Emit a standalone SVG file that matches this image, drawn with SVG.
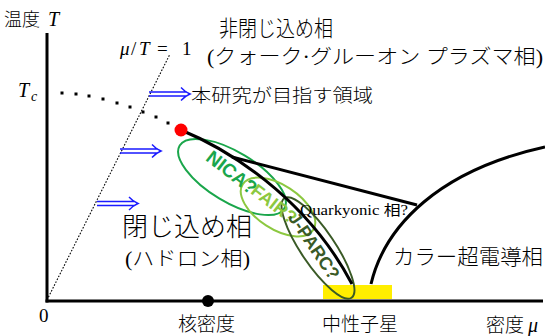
<svg xmlns="http://www.w3.org/2000/svg" width="545" height="336" viewBox="0 0 545 336">
<style>
.jp{font-family:"Liberation Serif","Noto Sans CJK JP",serif;fill:#000;font-weight:300}
.it{font-family:"Liberation Serif",serif;font-style:italic;fill:#000}
.rm{font-family:"Liberation Serif",serif;fill:#000}
.lbl{font-family:"Liberation Sans",Arial,sans-serif;font-weight:bold}
.arr{fill:none;stroke:#1a1aff;stroke-width:1.4}
.dot{fill:#000}
</style>
<rect width="545" height="336" fill="#fff"/>
<g id="axes">
<line x1="47" y1="33" x2="47" y2="302.5" stroke="#000" stroke-width="3"/>
<line x1="45.5" y1="301" x2="543" y2="301" stroke="#000" stroke-width="3"/>
<line x1="47" y1="300" x2="170" y2="54" stroke="#000" stroke-width="1.1" stroke-dasharray="1.6 1.6"/>
</g>
<g id="tc-dots">
<rect class="dot" x="60.5" y="91.5" width="3" height="3"/>
<rect class="dot" x="74.5" y="92.5" width="3" height="3"/>
<rect class="dot" x="87.5" y="94.5" width="3" height="3"/>
<rect class="dot" x="101.5" y="97.5" width="3" height="3"/>
<rect class="dot" x="115.5" y="101.5" width="3" height="3"/>
<rect class="dot" x="128.5" y="105.5" width="3" height="3"/>
<rect class="dot" x="141.5" y="110.5" width="3" height="3"/>
<rect class="dot" x="154.5" y="115.5" width="3" height="3"/>
<rect class="dot" x="166.5" y="121.5" width="3" height="3"/>
</g>
<g id="neutron-star-band">
<rect x="323" y="285" width="69" height="14" fill="#ffee00"/>
</g>
<g id="experiments">
<ellipse id="nica" cx="232" cy="177" rx="61" ry="25" transform="rotate(31 232 177)" fill="none" stroke="#1aa64b" stroke-width="2"/>
<ellipse id="fair" cx="278" cy="207" rx="42" ry="22" transform="rotate(33 278 207)" fill="none" stroke="#8cc840" stroke-width="2"/>
<ellipse id="jparc" cx="318" cy="248" rx="60" ry="17" transform="rotate(56 318 248)" fill="none" stroke="#3a5a26" stroke-width="2"/>
</g>
<g id="connectors" fill="none" stroke="#000" stroke-width="3">
<path d="M181,130 C225,148 305,195 352,284"/>
<path d="M232,157 L417,205"/>
<path d="M371,284 C385,225 440,170 545,147"/>
</g>
<g id="arrows">
<path class="arr" d="M149,92 H187 M149,96 H187 M181,87.5 Q185,92 190,94 Q185,96 181,100.5"/>
<path class="arr" d="M120,149 H158 M120,153 H158 M152,144.5 Q156,149 161,151 Q156,153 152,157.5"/>
<path class="arr" d="M97,201.5 H135 M97,205.5 H135 M129,197 Q133,201.5 138,203.5 Q133,205.5 129,210"/>
</g>
<g id="critical-point"><circle cx="181" cy="130" r="6.5" fill="#ff0000"/></g>
<g id="nuclear-density"><circle cx="208" cy="301" r="6" fill="#000"/></g>
<g id="labels">
<text class="jp" x="4" y="26" font-size="18">温度</text>
<text class="it" x="48" y="26" font-size="20">T</text>
<text class="it" x="18" y="97" font-size="20">T</text>
<text class="it" x="31" y="101" font-size="14">c</text>
<text class="rm" x="39" y="322" font-size="19">0</text>
<text class="it" x="120" y="55" font-size="19">μ</text>
<text class="rm" x="131" y="55" font-size="19">/</text>
<text class="it" x="139" y="55" font-size="19">T</text>
<text class="rm" x="157" y="55" font-size="19">=</text>
<text class="rm" x="182" y="55" font-size="19">1</text>
<text class="jp" x="219" y="36" font-size="22" textLength="114" lengthAdjust="spacingAndGlyphs">非閉じ込め相</text>
<text class="jp" x="207" y="64" font-size="20" textLength="336" lengthAdjust="spacingAndGlyphs">(クォーク·グルーオン プラズマ相)</text>
<text class="jp" x="191" y="102" font-size="18" textLength="182" lengthAdjust="spacingAndGlyphs">本研究が目指す領域</text>
<text class="jp" x="122" y="236" font-size="26" textLength="130" lengthAdjust="spacingAndGlyphs">閉じ込め相</text>
<text class="jp" x="125" y="266" font-size="20" textLength="125" lengthAdjust="spacingAndGlyphs">(ハドロン相)</text>
<text class="jp" x="393" y="264" font-size="21" textLength="150" lengthAdjust="spacingAndGlyphs">カラー超電導相</text>
<text class="rm" x="300" y="215" font-size="14" textLength="108" lengthAdjust="spacingAndGlyphs">Quarkyonic <tspan font-family="Noto Sans CJK JP">相</tspan>?</text>
<text class="jp" x="178" y="331" font-size="19">核密度</text>
<text class="jp" x="322" y="331" font-size="19" textLength="76" lengthAdjust="spacingAndGlyphs">中性子星</text>
<text class="jp" x="486" y="332" font-size="19">密度</text>
<text class="it" x="528" y="332" font-size="20">μ</text>
<text class="lbl" fill="#1aa64b" font-size="19" text-anchor="middle" transform="translate(232,172) rotate(38)" y="7">NICA?</text>
<text class="lbl" fill="#8cc840" font-size="18" text-anchor="middle" transform="translate(274,204) rotate(38)" y="6">FAIR?</text>
<text class="lbl" fill="#3a5a26" font-size="18" text-anchor="middle" transform="translate(314,246) rotate(56)" y="6">J-PARC?</text>
</g>
</svg>
